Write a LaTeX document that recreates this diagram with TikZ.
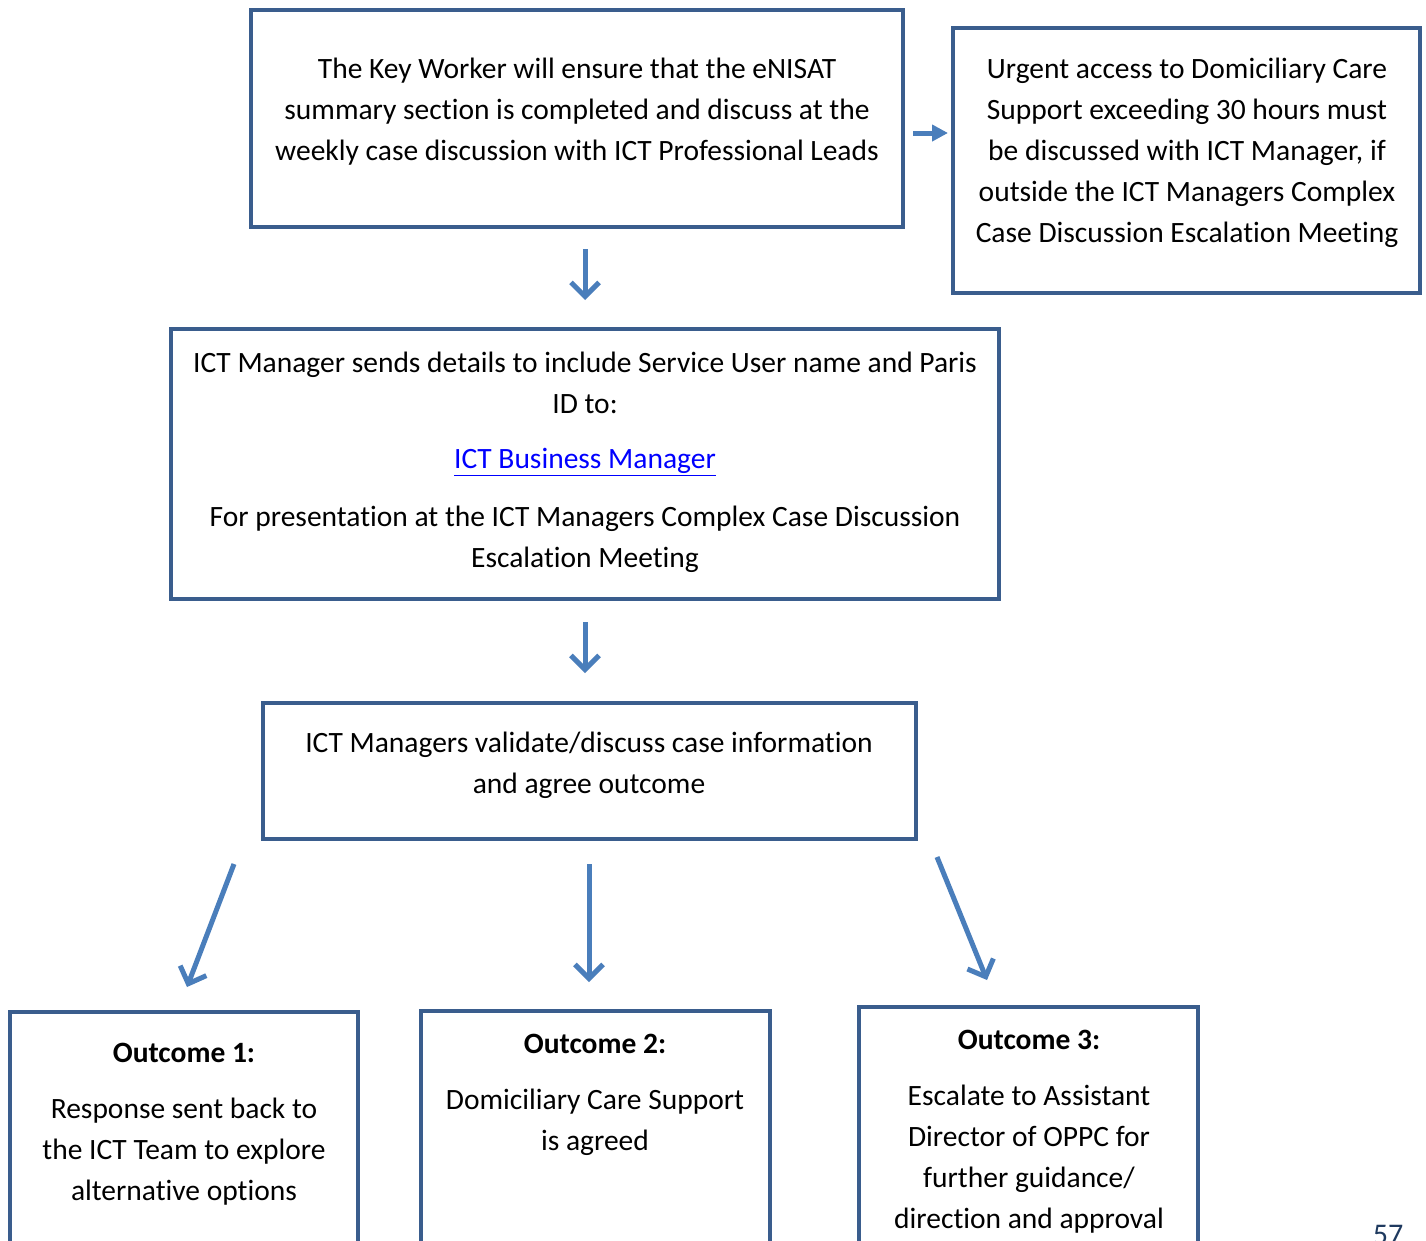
\documentclass[tikz,border=0pt]{standalone}
\usepackage{fontspec}
\setmainfont{Carlito}[Ligatures=NoCommon]
\usetikzlibrary{arrows.meta}
\definecolor{boxblue}{HTML}{3A5D8D}
\definecolor{arrblue}{HTML}{4A7EBB}
\definecolor{linkblue}{HTML}{0000FF}
\definecolor{pagenum}{HTML}{1F3A5F}
\tikzset{
  box/.style={draw=boxblue, line width=4pt, inner sep=0pt},
  txt/.style={align=center, inner sep=0pt, font=\fontsize{29.5}{41}\selectfont, text=black},
  hd/.style={txt, font=\fontsize{29.5}{41}\selectfont\bfseries},
  flow/.style={draw=arrblue, line width=5pt, -{Straight Barb[length=14pt,width=28pt,line width=5pt]}},
  sidearrow/.style={draw=arrblue, line width=5pt, -{Triangle[length=16pt,width=16pt]}},
}
\begin{document}
\begin{tikzpicture}[x=1pt,y=-1pt]
\useasboundingbox (0,0) rectangle (1426,1240);
\fill[white] (0,0) rectangle (1426,1240);

% boxes
\node[box, minimum width=652pt, minimum height=217pt] (b1) at (577,118.5) {};
\node[box, minimum width=467pt, minimum height=265pt] (b2) at (1186.5,160.5) {};
\node[box, minimum width=828pt, minimum height=270pt] (b3) at (585,464) {};
\node[box, minimum width=653pt, minimum height=136pt] (b4) at (589.5,771) {};
\node[box, minimum width=348pt, minimum height=280pt] (o1) at (184,1152) {};
\node[box, minimum width=349pt, minimum height=280pt] (o2) at (595.5,1151) {};
\node[box, minimum width=339pt, minimum height=284pt] (o3) at (1028.5,1149) {};

% texts
\node[txt] (t1) at (577,111.5) {The Key Worker will ensure that the eNISAT\\summary section is completed and discuss at the\\weekly case discussion with ICT Professional Leads};
\node[txt] (t2) at (1187,152.5) {Urgent access to Domiciliary Care\\Support exceeding 30 hours must\\be discussed with ICT Manager, if\\outside the ICT Managers Complex\\Case Discussion Escalation Meeting};
\node[txt] (t3a) at (585,383) {ICT Manager sends details to include Service User name and Paris\\ID to:};
\node[txt, text=linkblue] (t3b) at (585,462) {\underline{ICT Business Manager}};
\node[txt] (t3c) at (585,539.5) {For presentation at the ICT Managers Complex Case Discussion\\Escalation Meeting};
\node[txt] (t4) at (589,765) {ICT Managers validate/discuss case information\\and agree outcome};

\node[hd] (h1) at (184,1053) {Outcome 1:};
\node[txt] (d1) at (184,1151.5) {Response sent back to\\the ICT Team to explore\\alternative options};
\node[hd] (h2) at (595,1044) {Outcome 2:};
\node[txt] (d2) at (595,1122.5) {Domiciliary Care Support\\is agreed};
\node[hd] (h3) at (1029,1040) {Outcome 3:};
\node[txt] (d3) at (1029,1159.5) {Escalate to Assistant\\Director of OPPC for\\further guidance/\\direction and approval};

\node[text=pagenum, font=\fontsize{30}{36}\selectfont, anchor=north] (pg) at (1388,1222) {57};

% connector end points
\coordinate (a1s) at (913,133);  \coordinate (a1e) at (948,133);
\coordinate (a2s) at (585,249);  \coordinate (a2e) at (585,300);
\coordinate (a3s) at (585,622);  \coordinate (a3e) at (585,673);
\coordinate (a4s) at (234,864);  \coordinate (a4e) at (187,987);
\coordinate (a5s) at (589,864);  \coordinate (a5e) at (589,982);
\coordinate (a6s) at (937,857);  \coordinate (a6e) at (987,980);

\draw[sidearrow] (a1s) -- (a1e);
\draw[flow] (a2s) -- (a2e);
\draw[flow] (a3s) -- (a3e);
\draw[flow] (a4s) -- (a4e);
\draw[flow] (a5s) -- (a5e);
\draw[flow] (a6s) -- (a6e);
\end{tikzpicture}
\end{document}
